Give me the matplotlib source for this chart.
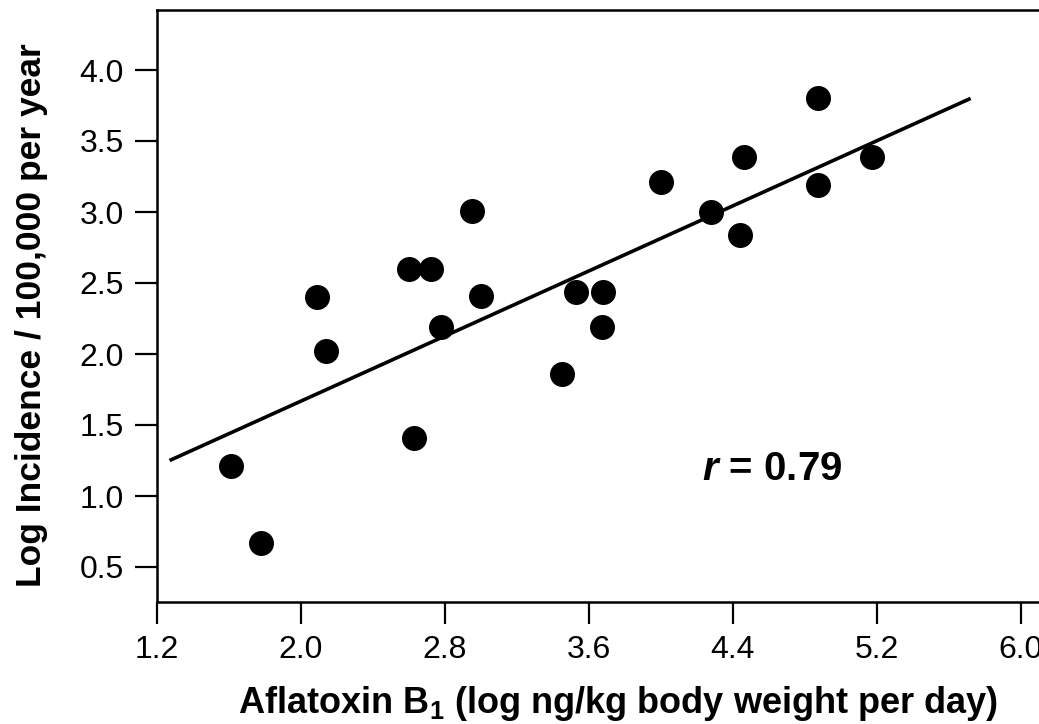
import matplotlib
matplotlib.use("Agg")
import matplotlib.pyplot as plt

# Data
aflatoxin = [1.61, 1.78, 2.09, 2.14, 2.60, 2.72, 2.63, 2.78, 2.95, 3.00,
             3.45, 3.53, 3.68, 3.67, 4.00, 4.28, 4.44, 4.46, 4.87, 4.87, 5.17]
log_incidence = [1.21, 0.67, 2.40, 2.02, 2.60, 2.60, 1.41, 2.19, 3.01, 2.41,
                 1.86, 2.44, 2.44, 2.19, 3.21, 3.00, 2.84, 3.39, 3.80, 3.19, 3.39]
fit_x = [1.27, 5.72]
fit_y = [1.25, 3.80]
x_ticks = [1.2, 2.0, 2.8, 3.6, 4.4, 5.2, 6.0]
x_tick_labels = ["1.2", "2.0", "2.8", "3.6", "4.4", "5.2", "6.0"]
y_ticks = [0.5, 1.0, 1.5, 2.0, 2.5, 3.0, 3.5, 4.0]
y_tick_labels = ["0.5", "1.0", "1.5", "2.0", "2.5", "3.0", "3.5", "4.0"]
r_text = "0.79"

plt.rcParams['font.family'] = ['Liberation Sans', 'DejaVu Sans']
plt.rcParams['mathtext.fontset'] = 'custom'
plt.rcParams['mathtext.rm'] = 'Liberation Sans:bold'
plt.rcParams['mathtext.it'] = 'Liberation Sans:italic:bold'

W, H = 1039, 724
fig = plt.figure(figsize=(W / 100, H / 100), dpi=100)
L, B, T = 157, 602, 10
ax = fig.add_axes([L / W, (H - B) / H, 1 - L / W, (B - T) / H])

ax.plot(fit_x, fit_y, color='black', lw=2.6, solid_capstyle='butt', zorder=2)
ax.plot(aflatoxin, log_incidence, 'o', color='black', markersize=18,
        markeredgewidth=0, zorder=3)

ax.set_xlim(1.2, 1.2 + (W - L) / 180.0)
ax.set_ylim(0.5 - (B - 567) / 142.0, 4.0 + (70 - T) / 142.0)

ax.set_xticks(x_ticks)
ax.set_xticklabels(x_tick_labels)
ax.set_yticks(y_ticks)
ax.set_yticklabels(y_tick_labels)

for s in ['left', 'bottom', 'top']:
    ax.spines[s].set_linewidth(1.8)
ax.spines['right'].set_visible(False)
ax.tick_params(axis='both', direction='out', length=16, width=1.6,
               labelsize=23, color='black')
ax.tick_params(axis='x', pad=8)
ax.tick_params(axis='y', pad=8)

ax.set_xlabel(r"Aflatoxin B$_\mathrm{1}$ (log ng/kg body weight per day)",
              fontsize=26, fontweight='bold', va='top')
ax.xaxis.set_label_coords((618 - L) / (W - L), (B - 684) / (B - T))
ax.set_ylabel("Log Incidence / 100,000 per year", fontsize=25.5,
              fontweight='bold')
ax.yaxis.set_label_coords((48 - L) / (W - L), (B - 315) / (B - T))

ax.text(4.62, 1.11, r"$r$ = " + r_text, fontsize=29, fontweight='bold',
        ha='center', va='baseline')

fig.savefig("out.png", dpi=100)
